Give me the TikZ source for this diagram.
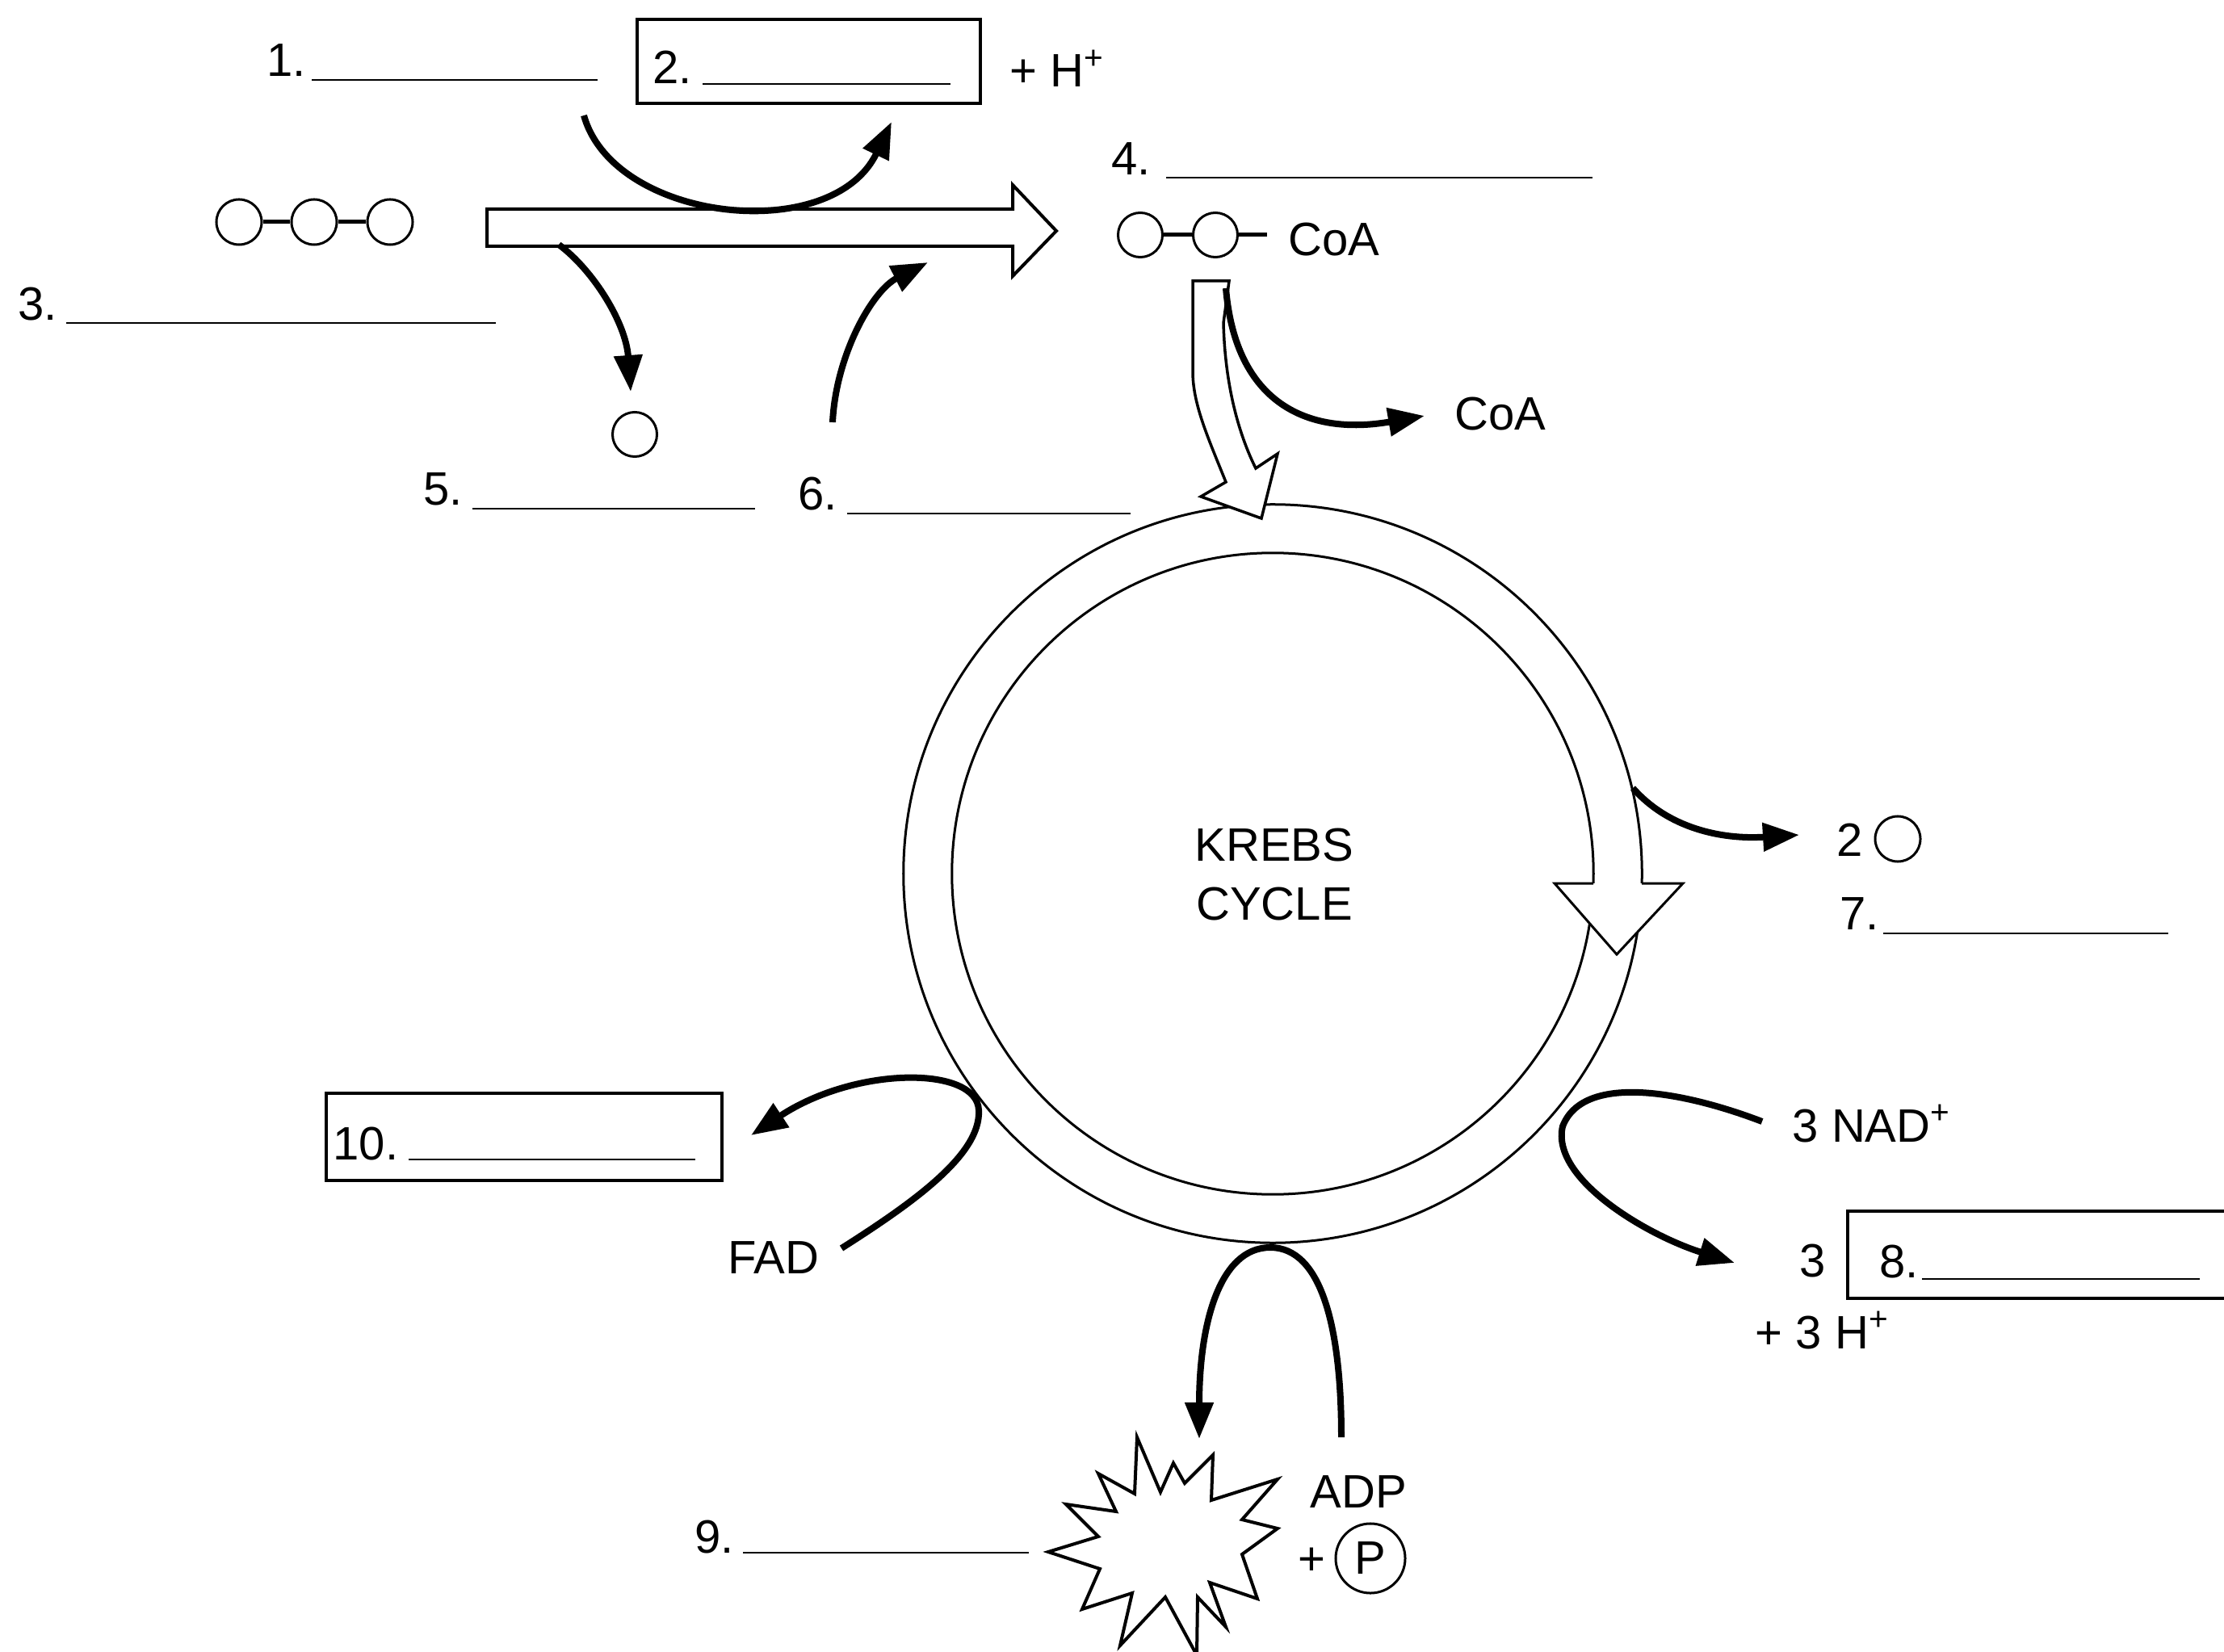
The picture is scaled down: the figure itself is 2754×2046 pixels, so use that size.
\documentclass[tikz,border=0pt]{standalone}
\usepackage{fontspec}
\setmainfont{Liberation Sans}
\usetikzlibrary{arrows.meta}
\begin{document}
\begin{tikzpicture}[x=0.01cm,y=-0.01cm,
  lbl/.style={anchor=base west,inner sep=0pt,font=\fontsize{16.5}{20}\selectfont},
  ctr/.style={anchor=base,inner sep=0pt,font=\fontsize{16.5}{20}\selectfont},
  blank/.style={line width=0.025cm},
  thinln/.style={line width=0.03cm},
  bigarrow/.style={line width=0.04cm,fill=white,line join=miter},
  curvarrow/.style={line width=0.08cm,-{Triangle[length=0.45cm,width=0.34cm]}},
  curvline/.style={line width=0.08cm},
  atom/.style={circle,draw,line width=0.03cm,minimum size=0.56cm,inner sep=0pt,fill=white},
  bond/.style={line width=0.05cm},
  labelbox/.style={draw,line width=0.035cm,inner sep=0pt}
]
\useasboundingbox (0,0) rectangle (2754,2046);
\fill[white] (0,0) rectangle (2754,2046);

% ---------- top: pyruvate -> acetyl CoA ----------
\node[lbl] (l1) at (330,95) {1.};
\draw[blank] (386,99) -- (740,99);
\node[labelbox,minimum width=4.25cm,minimum height=1.04cm] (box2) at (1001.5,76) {};
\node[lbl] (l2) at (808,104) {2.};
\draw[blank] (870,104) -- (1177,104);
\node[lbl] (hplus1) at (1250,108) {+ H\textsuperscript{+}};

\node[lbl] (l3) at (22,397) {3.};
\draw[blank] (82,400) -- (614,400);

\node[atom] (a1) at (296,275) {};
\node[atom] (a2) at (389,275) {};
\node[atom] (a3) at (483,275) {};
\draw[bond] (a1) -- (a2);
\draw[bond] (a2) -- (a3);

% big hollow arrow
\draw[bigarrow] (603,259) -- (1254,259) -- (1254,229) -- (1308,286) -- (1254,342) -- (1254,305) -- (603,305) -- cycle;

% curved arrow NAD+ -> NADH (top)
\coordinate (c1s) at (723,143);
\coordinate (c1e) at (1104,151);
\draw[curvarrow] (c1s) .. controls (760,275) and (1030,305) .. (c1e);

% CO2 out
\coordinate (c2s) at (692,303);
\coordinate (c2e) at (781,485);
\draw[curvarrow] (c2s) .. controls (735,335) and (775,400) .. (c2e);
\node[atom,minimum size=0.55cm] (co2a) at (786,538) {};

% CoA in
\coordinate (c3s) at (1031,523);
\coordinate (c3e) at (1149,325);
\draw[curvarrow] (c3s) .. controls (1035,440) and (1080,360) .. (c3e);

\node[lbl] (l5) at (524,626) {5.};
\draw[blank] (585,630) -- (935,630);
\node[lbl] (l6) at (988,632) {6.};
\draw[blank] (1049,636) -- (1400,636);

% acetyl CoA
\node[lbl] (l4) at (1376,217) {4.};
\draw[blank] (1444,220) -- (1972,220);
\node[atom,minimum size=0.55cm] (b1) at (1412,291) {};
\node[atom,minimum size=0.55cm] (b2) at (1505,291) {};
\node[lbl] (coa1) at (1595,317) {CoA};
\coordinate (coatail) at (1569,291);
\draw[bond] (b1) -- (b2);
\draw[bond] (b2) -- (coatail);

% ---------- Krebs cycle ring ----------
\coordinate (kc) at (1576,1082);
\draw[thinln] (kc) circle[radius=4.57cm];
\draw[thinln] (kc) circle[radius=3.97cm];
\path[fill=white] (1973,1094) -- (1925,1094) -- (2002,1182) -- (2084,1094) -- (2033,1094) -- cycle;
\draw[thinln,line join=miter] (1973,1094) -- (1925,1094) -- (2002,1182) -- (2084,1094) -- (2033,1094);
\node[ctr] (krebs) at (1578,1066) {KREBS};
\node[ctr] (cycle) at (1578,1139) {CYCLE};

% entry hollow arrow (acetyl CoA -> cycle)
\draw[line width=0.035cm,fill=white,line join=miter] (1477,348) -- (1522,348) -- (1515,400)
  .. controls (1517,480) and (1535,540) .. (1555,580) -- (1582,562) -- (1562,642) -- (1487,615) -- (1518,597)
  .. controls (1495,540) and (1477,500) .. (1477,460) -- cycle;

% CoA released
\coordinate (c4s) at (1518,357);
\coordinate (c4e) at (1764,515);
\draw[curvarrow] (c4s) .. controls (1530,500) and (1620,540) .. (c4e);
\node[lbl] (coa2) at (1801,533) {CoA};

% CO2 out (right)
\coordinate (c5s) at (2022,976);
\coordinate (c5e) at (2228,1034);
\draw[curvarrow] (c5s) .. controls (2065,1025) and (2130,1040) .. (c5e);
\node[lbl] (two) at (2274,1060) {2};
\node[atom,minimum size=0.56cm] (co2b) at (2350,1039) {};
\node[lbl] (l7) at (2278,1151) {7.};
\draw[blank] (2332,1156) -- (2685,1156);

% NAD+ -> NADH
\node[lbl] (nad) at (2219,1414) {3 NAD\textsuperscript{+}};
\coordinate (c6s) at (2182,1389);
\coordinate (c6e) at (2148,1564);
\draw[curvarrow] (c6s) .. controls (2080,1350) and (1960,1330) .. (1935,1395)
  .. controls (1920,1460) and (2040,1530) .. (c6e);
\node[lbl] (three8) at (2228,1581) {3};
\draw[labelbox] (2754,1500) -- (2288,1500) -- (2288,1608) -- (2754,1608);
\node[lbl] (l8) at (2327,1582) {8.};
\draw[blank] (2380,1584) -- (2724,1584);
\node[lbl] (hplus3) at (2173,1670) {+ 3 H\textsuperscript{+}};

% FAD -> FADH2
\node[labelbox,minimum width=4.9cm,minimum height=1.08cm] (box10) at (649,1408) {};
\node[lbl] (l10) at (412,1436) {10.};
\draw[blank] (506,1436) -- (861,1436);
\node[lbl] (fad) at (901,1577) {FAD};
\coordinate (c7s) at (1042,1546);
\coordinate (c7e) at (930,1406);
\draw[curvarrow] (c7s) .. controls (1130,1490) and (1215,1430) .. (1212,1375)
  .. controls (1210,1320) and (1060,1320) .. (c7e);

% ADP + P -> ATP
\coordinate (c8s) at (1661,1780);
\coordinate (c8e) at (1485,1782);
\draw[curvarrow] (c8s) .. controls (1661,1640) and (1635,1545) .. (1573,1545)
  .. controls (1510,1545) and (1485,1640) .. (c8e);

\draw[line width=0.04cm,fill=white,line join=miter] (1408,1780) -- (1437,1848) -- (1453,1812) -- (1467,1837)
  -- (1502,1802) -- (1500,1858) -- (1582,1832) -- (1538,1882) -- (1582,1893) -- (1538,1925)
  -- (1557,1980) -- (1498,1960) -- (1518,2015) -- (1483,1978) -- (1482,2050) -- (1443,1978)
  -- (1387,2038) -- (1402,1973) -- (1340,1993) -- (1362,1943) -- (1298,1922) -- (1360,1903)
  -- (1320,1863) -- (1382,1872) -- (1360,1825) -- (1405,1850) -- cycle;

\node[lbl] (l9) at (860,1923) {9.};
\draw[blank] (920,1923) -- (1274,1923);
\node[lbl] (adp) at (1622,1867) {ADP};
\node[lbl] (plus2) at (1607,1950) {+};
\node[circle,draw,line width=0.03cm,minimum size=0.86cm,inner sep=0pt,font=\fontsize{16.5}{20}\selectfont] (pc) at (1697,1930) {P};
\end{tikzpicture}
\end{document}
